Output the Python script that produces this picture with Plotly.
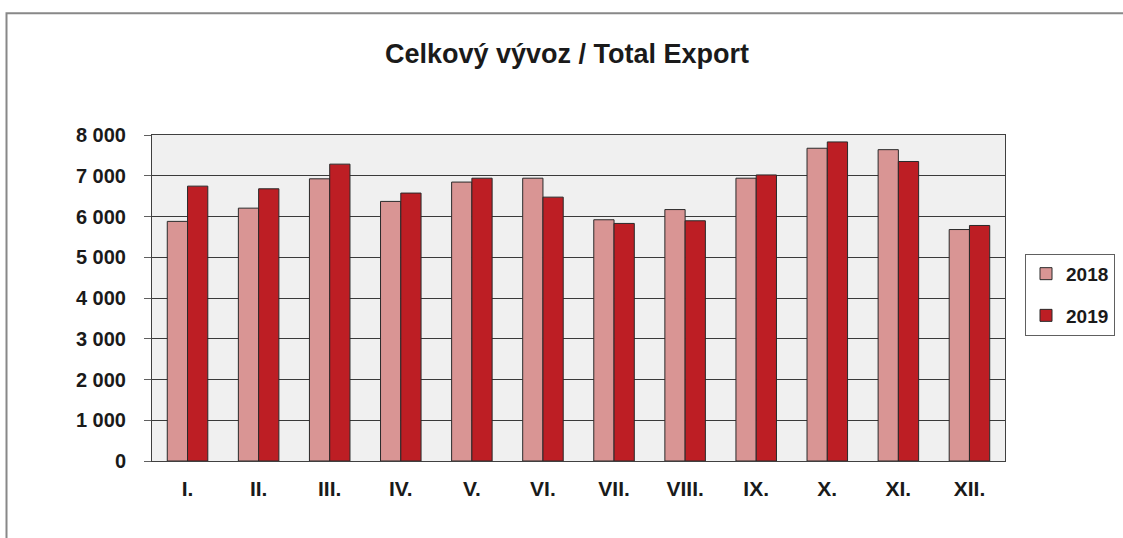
import plotly.graph_objects as go

months = ["I.", "II.", "III.", "IV.", "V.", "VI.", "VII.", "VIII.", "IX.", "X.", "XI.", "XII."]
export_2018 = [5880, 6205, 6925, 6370, 6845, 6940, 5920, 6170, 6940, 7675, 7640, 5680]
export_2019 = [6745, 6680, 7285, 6575, 6940, 6475, 5830, 5895, 7020, 7830, 7350, 5780]
tick_vals = [0, 1000, 2000, 3000, 4000, 5000, 6000, 7000, 8000]

W, H = 1123, 538
L, R, T, B = 152, 118, 135, 76.5
pw, ph = W - L - R, H - T - B

fig = go.Figure()
fig.add_trace(go.Bar(name="2018", x=months, y=export_2018, legendgroup="a",
                     marker=dict(color="#d99594", line=dict(color="#2a2a2a", width=1))))
fig.add_trace(go.Bar(name="2019", x=months, y=export_2019, legendgroup="b",
                     marker=dict(color="#bd1e24", line=dict(color="#2a2a2a", width=1))))

font_family = "Liberation Sans, Arial, sans-serif"

def px_x(v):
    return (v - L) / pw

def px_y(v):
    return (H - B - v) / ph

fig.update_layout(
    width=W, height=H,
    margin=dict(l=L, r=R, t=T, b=B, autoexpand=False),
    paper_bgcolor="white",
    plot_bgcolor="#f0f0f0",
    barmode="group",
    bargap=0.43,
    bargroupgap=0,
    separators=", ",
    title=dict(text="<b>Celkový vývoz / Total Export</b>", xref="container", x=567 / W,
               xanchor="center", y=1 - 54 / H, yanchor="middle",
               font=dict(family=font_family, size=27, color="#1a1a1a")),
    font=dict(family=font_family, color="#1a1a1a"),
    xaxis=dict(
        showline=True, linecolor="#404040", linewidth=1, mirror=True,
        tickfont=dict(size=21, family=font_family, color="#1a1a1a", weight="bold"),
        ticks="", ticklabelstandoff=9,
    ),
    yaxis=dict(
        range=[0, 8000], tickvals=tick_vals, tickformat=",d",
        showgrid=True, gridcolor="#3a3a3a", gridwidth=1,
        showline=True, linecolor="#404040", linewidth=1, mirror=True,
        ticks="outside", ticklen=7, tickcolor="#606060",
        tickfont=dict(size=20, family=font_family, color="#1a1a1a", weight="bold"),
        ticklabelstandoff=14,
        zeroline=False,
    ),
    legend=dict(
        x=px_x(1025), y=px_y(254), xanchor="left", yanchor="top",
        bordercolor="#606060", borderwidth=1, bgcolor="white",
        font=dict(size=19, family=font_family, color="#1a1a1a", weight="bold"),
        tracegroupgap=14, itemwidth=30,
    ),
    shapes=[dict(type="rect", xref="paper", yref="paper",
                 x0=px_x(6.5), x1=px_x(1135), y0=px_y(550), y1=px_y(13),
                 line=dict(color="#888888", width=2), layer="below")],
)

fig.write_html("out.html", config={"displayModeBar": False},
               post_script="document.body.style.margin='0';")
